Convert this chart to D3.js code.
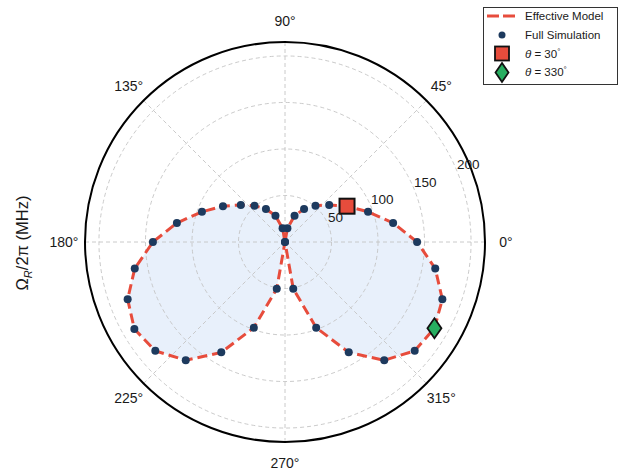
<!DOCTYPE html>
<html><head><meta charset="utf-8">
<script src="https://cdn.jsdelivr.net/npm/d3@7"></script>
<style>
body{margin:0;background:#fff}
svg{display:block}
text{font-family:"Liberation Sans",Arial,Helvetica,sans-serif;fill:#1a1a1a}
</style>
</head><body>
<svg id="chart" width="623" height="472"></svg>
<script>
// ---- data ----
const simAngles   = [0,10,20,30,40,50,60,70,80,90,100,110,120,130,140,150,160,170,180,190,200,210,220,230,240,250,260,270,280,290,300,310,320,330,340,350];
const simValues   = [142,118,95,77,62,51,41,30,15,0,15,30,41,51,62,77,95,118,142,164,180,187,182,166,137,98,51,0,51,98,137,166,182,185.5,180,164];
const modelAngles = [0,10,20,30,40,50,60,70,80,90,100,110,120,130,140,150,160,170,180,190,200,210,220,230,240,250,260,270,280,290,300,310,320,330,340,350];
const modelValues = [142,118,95,77,62,51,41,30,15,0,15,30,41,51,62,77,95,118,142,164,180,187,182,166,137,98,51,0,51,98,137,166,182,185.5,180,164];
const highlightAngles = [30,330];
const highlightValues = [77,185.5];
const radialTicks = [50,100,150,200];
const angleTicks  = [0,45,90,135,180,225,270,315];
const legendLabels = ["Effective Model","Full Simulation","30","330"];

// ---- layout ----
const cx = 285, cy = 242, R = 200;
const svg = d3.select("#chart");
const r = d3.scaleLinear().domain([0,215]).range([0,R]);
const rad = a => (90 - a) * Math.PI / 180;          // d3 radial angle
const px = (a,v) => cx + r(v) * Math.cos(a*Math.PI/180);
const py = (a,v) => cy - r(v) * Math.sin(a*Math.PI/180);

const g = svg.append("g").attr("transform",`translate(${cx},${cy})`);

const model = modelAngles.map((a,i)=>({a, v:modelValues[i]}));
const sim = simAngles.map((a,i)=>({a, v:simValues[i]}));

const lineGen = d3.lineRadial()
  .angle(d=>rad(d.a)).radius(d=>r(d.v)).curve(d3.curveLinearClosed);

// fill
g.append("path").datum(model).attr("d",lineGen)
  .attr("fill","rgb(232,240,251)").attr("stroke","none");

// grid circles
g.selectAll("circle.grid").data(radialTicks).join("circle")
  .attr("r",d=>r(d)).attr("fill","none")
  .attr("stroke","#c4c4c4").attr("stroke-width",0.9).attr("stroke-dasharray","4,3");
// spokes
g.selectAll("line.spoke").data(angleTicks).join("line")
  .attr("x1",0).attr("y1",0)
  .attr("x2",d=>R*Math.cos(d*Math.PI/180)).attr("y2",d=>-R*Math.sin(d*Math.PI/180))
  .attr("stroke","#c4c4c4").attr("stroke-width",0.9).attr("stroke-dasharray","4,3");

// outer spine
g.append("circle").attr("r",R).attr("fill","none").attr("stroke","#000").attr("stroke-width",2);

// model line
g.append("path").datum(model).attr("d",lineGen)
  .attr("fill","none").attr("stroke","#e74c3c").attr("stroke-width",3)
  .attr("stroke-dasharray","10,5");

// sim points
g.selectAll("circle.sim").data(sim).join("circle")
  .attr("cx",d=>r(d.v)*Math.cos(d.a*Math.PI/180))
  .attr("cy",d=>-r(d.v)*Math.sin(d.a*Math.PI/180))
  .attr("r",4).attr("fill","#1d3a5e");

// highlight markers
const sq = 15;
svg.append("rect")
  .attr("x",px(highlightAngles[0],highlightValues[0])-sq/2)
  .attr("y",py(highlightAngles[0],highlightValues[0])-sq/2)
  .attr("width",sq).attr("height",sq)
  .attr("fill","#e74c3c").attr("stroke","#111").attr("stroke-width",2);
const dx0 = px(highlightAngles[1],highlightValues[1]), dy0 = py(highlightAngles[1],highlightValues[1]);
svg.append("path")
  .attr("d",`M${dx0},${dy0-10}L${dx0+7},${dy0}L${dx0},${dy0+10}L${dx0-7},${dy0}Z`)
  .attr("fill","#27ae60").attr("stroke","#111").attr("stroke-width",1.8);

// angle labels
svg.selectAll("text.ang").data(angleTicks).join("text")
  .attr("x",d=>cx+221*Math.cos(d*Math.PI/180))
  .attr("y",d=>cy-221*Math.sin(d*Math.PI/180))
  .attr("text-anchor","middle").attr("dominant-baseline","central")
  .attr("font-size",14).text(d=>d+"°");

// radial labels at 22.5°
const la = 22.5*Math.PI/180;
svg.selectAll("text.rl").data(radialTicks).join("text")
  .attr("x",d=>cx+r(d)*Math.cos(la))
  .attr("y",d=>cy-r(d)*Math.sin(la)-2)
  .attr("font-size",13.5).text(d=>d);

// y label
const yl = svg.append("text").attr("transform","translate(28,243) rotate(-90)")
  .attr("text-anchor","middle").attr("font-size",16.5);
yl.append("tspan").text("Ω");
yl.append("tspan").attr("font-size",11).attr("dy",3.5).attr("font-style","italic").text("R");
yl.append("tspan").attr("dy",-3.5).text("/2π (MHz)");

// legend
const lg = svg.append("g");
lg.append("rect").attr("x",483.5).attr("y",7.5).attr("width",134).attr("height",77)
  .attr("fill","#fff").attr("stroke","#333").attr("stroke-width",1);
lg.append("line").attr("x1",487).attr("x2",517).attr("y1",16).attr("y2",16)
  .attr("stroke","#e74c3c").attr("stroke-width",3).attr("stroke-dasharray","12,4");
lg.append("circle").attr("cx",502).attr("cy",35).attr("r",3.5).attr("fill","#1d3a5e");
lg.append("rect").attr("x",495).attr("y",46.5).attr("width",14).attr("height",14)
  .attr("fill","#e74c3c").attr("stroke","#111").attr("stroke-width",1.8);
lg.append("path").attr("d","M502,63L508.5,72.5L502,82L495.5,72.5Z")
  .attr("fill","#27ae60").attr("stroke","#111").attr("stroke-width",1.8);
const ty = [16,35,54,72];
[0,1].forEach(i=>lg.append("text").attr("x",525).attr("y",ty[i]).attr("dominant-baseline","central")
  .attr("font-size",11.5).text(legendLabels[i]));
[2,3].forEach(i=>{
  const t = lg.append("text").attr("x",525).attr("y",ty[i]).attr("dominant-baseline","central").attr("font-size",11.5);
  t.append("tspan").attr("font-style","italic").text("θ");
  t.append("tspan").text(" = "+legendLabels[i]);
  t.append("tspan").attr("font-size",8).attr("dy",-3).text("°");
});
</script>
</body></html>
